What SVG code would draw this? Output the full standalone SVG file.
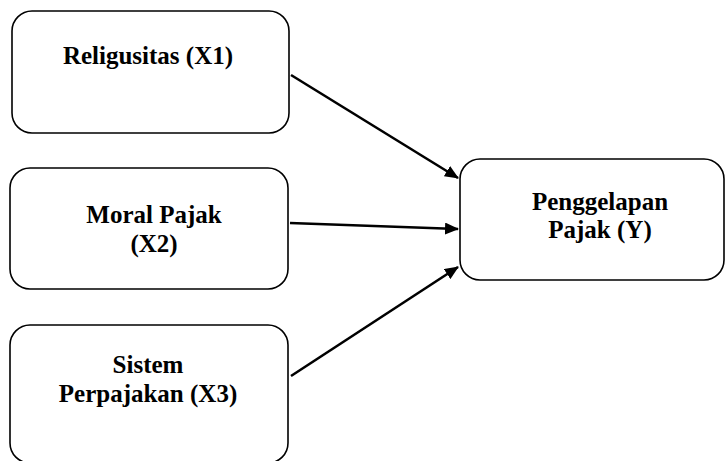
<svg xmlns="http://www.w3.org/2000/svg" width="726" height="461" viewBox="0 0 726 461">
<style>
.box{fill:#fff;stroke:#000;stroke-width:1.6}
.lbl{font-family:'Liberation Serif','DejaVu Serif',serif;font-weight:bold;font-size:25px;fill:#000;text-anchor:middle}
.conn{stroke:#000;stroke-width:2.6;fill:none}
</style>
<defs>
<marker id="arr" markerUnits="userSpaceOnUse" markerWidth="14" markerHeight="12" refX="13" refY="6" orient="auto">
<path d="M0,0 L14,6 L0,12 Z" fill="#000"/>
</marker>
</defs>
<rect width="726" height="461" fill="#fff"/>
<g id="node-x1">
<rect class="box" x="12" y="11" width="277" height="122" rx="20"/>
<text class="lbl" x="148" y="64">Religusitas (X1)</text>
</g>
<g id="node-x2">
<rect class="box" x="10" y="168" width="278" height="121" rx="20"/>
<text class="lbl" x="154" y="223">Moral Pajak</text>
<text class="lbl" x="154" y="252">(X2)</text>
</g>
<g id="node-x3">
<rect class="box" x="10" y="325" width="278" height="138" rx="20"/>
<text class="lbl" x="148" y="373">Sistem</text>
<text class="lbl" x="148" y="402">Perpajakan (X3)</text>
</g>
<g id="node-y">
<rect class="box" x="460" y="159" width="264" height="121" rx="20"/>
<text class="lbl" x="600" y="210">Penggelapan</text>
<text class="lbl" x="600" y="238">Pajak (Y)</text>
</g>
<g id="connectors">
<line class="conn" x1="291" y1="75" x2="458" y2="178" marker-end="url(#arr)"/>
<line class="conn" x1="290" y1="223" x2="458" y2="229" marker-end="url(#arr)"/>
<line class="conn" x1="291" y1="376" x2="458" y2="267" marker-end="url(#arr)"/>
</g>
</svg>
